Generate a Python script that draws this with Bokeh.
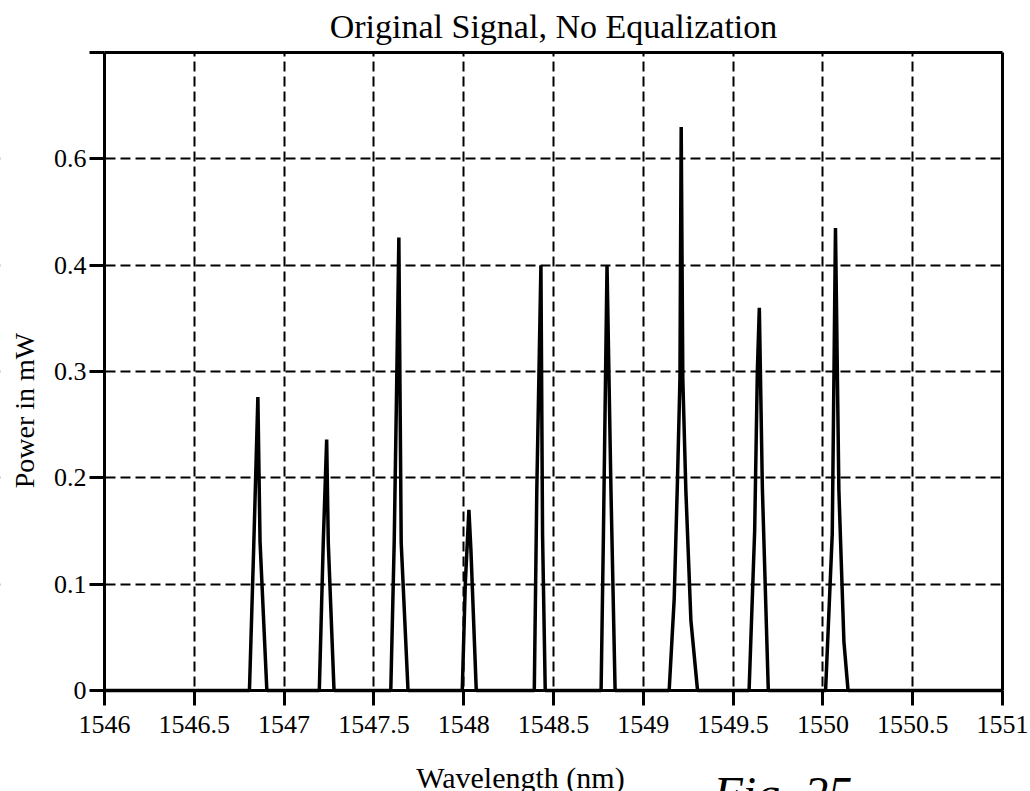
from bokeh.plotting import figure
from bokeh.models import Range1d, FixedTicker, Label, LinearAxis, BoxAnnotation
from bokeh.embed import file_html
from bokeh.resources import INLINE
import math

# ---- data (trace vertices) ----
wavelength_nm = [
    1546.000,
    1546.807, 1546.831, 1546.854, 1546.866, 1546.904,            # peak 1
    1547.196, 1547.218, 1547.237, 1547.246, 1547.278,            # peak 2
    1547.594, 1547.613, 1547.627, 1547.639, 1547.645, 1547.652, 1547.690,  # peak 3
    1547.992, 1548.009, 1548.029, 1548.040, 1548.070,            # peak 4
    1548.393, 1548.407, 1548.430, 1548.439, 1548.454,            # peak 5
    1548.765, 1548.778, 1548.798, 1548.820, 1548.843,            # peak 6
    1549.144, 1549.172, 1549.190, 1549.204, 1549.211, 1549.220, 1549.237, 1549.265, 1549.302,  # peak 7
    1549.589, 1549.620, 1549.635, 1549.646, 1549.663, 1549.696,  # peak 8
    1550.015, 1550.052, 1550.061, 1550.070, 1550.089, 1550.117, 1550.140,  # peak 9
    1551.000,
]
power_mw = [
    0.0,
    0.0, 0.136, 0.276, 0.140, 0.0,
    0.0, 0.139, 0.236, 0.139, 0.0,
    0.0, 0.139, 0.290, 0.426, 0.290, 0.139, 0.0,
    0.0, 0.101, 0.170, 0.133, 0.0,
    0.0, 0.188, 0.400, 0.147, 0.0,
    0.0, 0.147, 0.400, 0.188, 0.0,
    0.0, 0.086, 0.196, 0.293, 0.530, 0.293, 0.188, 0.066, 0.0,
    0.0, 0.150, 0.300, 0.360, 0.190, 0.0,
    0.0, 0.147, 0.289, 0.435, 0.188, 0.046, 0.0,
    0.0,
]

x_ticks = [1546, 1546.5, 1547, 1547.5, 1548, 1548.5, 1549, 1549.5, 1550, 1550.5, 1551]
x_tick_labels = ["1546", "1546.5", "1547", "1547.5", "1548", "1548.5", "1549", "1549.5", "1550", "1550.5", "1551"]
y_ticks = [0, 0.1, 0.2, 0.3, 0.4, 0.5, 0.6]
y_tick_labels = ["0", "0.1", "0.2", "0.3", "0.4", "0.6", ""]

X_MIN, X_MAX = 1546, 1551
Y_MIN, Y_MAX = 0, 0.6

# ---- layout (pixels) ----
W, H = 1030, 791
PLOT_L, PLOT_R, PLOT_T, PLOT_B = 104, 1002, 52, 690
kx = (PLOT_R - PLOT_L) / (X_MAX - X_MIN)
ky = (PLOT_B - PLOT_T) / (Y_MAX - Y_MIN)
def dx(px):
    return X_MIN + (px - PLOT_L) / kx
def dy(py):
    return Y_MIN + (PLOT_B - py) / ky
BASE_SHIFT = 0.33  # label anchor sits this many em above the drawn baseline

FONT = "Liberation Serif"

p = figure(width=W, height=H,
           x_range=Range1d(dx(0), dx(W)), y_range=Range1d(dy(H), dy(0)),
           output_backend="svg", toolbar_location=None,
           min_border=0, min_border_left=0, min_border_right=0,
           min_border_top=0, min_border_bottom=0)
p.background_fill_color = "white"
p.border_fill_color = "white"
p.outline_line_color = None

# dashed grid (real Grid objects), trimmed to the plot box by white covers
p.xgrid.ticker = FixedTicker(ticks=x_ticks[1:-1])
p.ygrid.ticker = FixedTicker(ticks=y_ticks[1:-1])
for g in (p.xgrid[0], p.ygrid[0]):
    g.grid_line_color = "black"
    g.grid_line_width = 2
    g.grid_line_dash = "10 5"
for kw in (dict(top=Y_MIN), dict(bottom=Y_MAX), dict(right=X_MIN), dict(left=X_MAX)):
    p.add_layout(BoxAnnotation(fill_color="white", fill_alpha=1.0, line_color=None,
                               level="underlay", **kw))

p.line(wavelength_nm, power_mw, line_color="black", line_width=3.5)

def style_axis(ax):
    ax.axis_line_width = 3
    ax.axis_line_color = "black"
    ax.major_tick_line_width = 3
    ax.major_tick_line_color = "black"
    ax.major_tick_in = 0
    ax.major_tick_out = 15
    ax.minor_tick_line_color = None
    ax.major_label_text_font = FONT
    ax.major_label_text_font_size = "26px"
    ax.major_label_text_color = "black"

xa = p.xaxis[0]
ya = p.yaxis[0]
style_axis(xa)
style_axis(ya)
xa.fixed_location = Y_MIN
xa.bounds = (X_MIN, X_MAX)
xa.ticker = FixedTicker(ticks=x_ticks)
xa.major_label_overrides = {t: l for t, l in zip(x_ticks, x_tick_labels)}
xa.major_label_standoff = 10
ya.fixed_location = X_MIN
ya.bounds = (Y_MIN, Y_MAX)
ya.ticker = FixedTicker(ticks=y_ticks)
ya.major_label_overrides = {t: l for t, l in zip(y_ticks, y_tick_labels)}
ya.major_label_standoff = 3

# top and right frame lines
top_ax = LinearAxis(fixed_location=Y_MAX, bounds=(X_MIN, X_MAX), ticker=FixedTicker(ticks=[]))
right_ax = LinearAxis(fixed_location=X_MAX, bounds=(Y_MIN, Y_MAX), ticker=FixedTicker(ticks=[]))
for ax in (top_ax, right_ax):
    style_axis(ax)
    ax.major_tick_line_color = None
    ax.major_label_text_color = None
p.add_layout(top_ax, "above")
p.add_layout(right_ax, "right")

# texts (positions given as the drawn baseline in pixels)
def text_label(px, py, text, size, angle=0.0, align="center", style="normal"):
    shift = BASE_SHIFT * size
    if angle:
        px = px - shift
    else:
        py = py - shift
    p.add_layout(Label(x=dx(px), y=dy(py), text=text, angle=angle,
                       text_font=FONT, text_font_size=f"{size}px", text_font_style=style,
                       text_align=align, text_baseline="alphabetic", text_color="black"))

text_label(553, 37, "Original Signal, No Equalization", 34)
text_label(33, 410, "Power in mW", 28, angle=math.pi / 2)
text_label(520, 787, "Wavelength (nm)", 30)
text_label(713, 809, "Fig. 25", 48, align="left", style="italic")

open("out.html", "w").write(file_html(p, INLINE))
